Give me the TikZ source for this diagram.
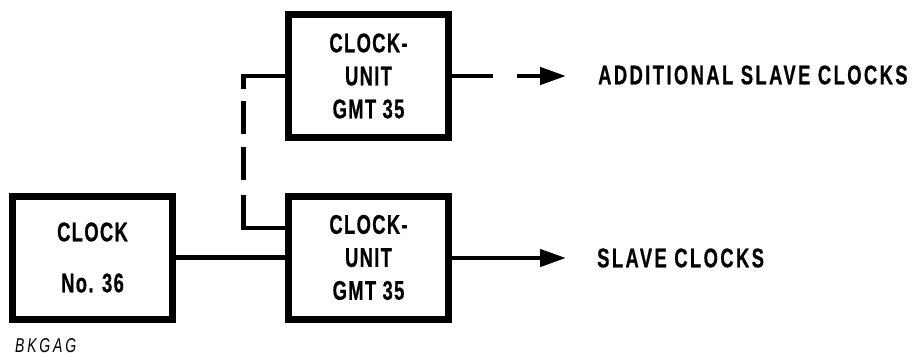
\documentclass[tikz,border=0pt]{standalone}
\usepackage{fontspec}
\usetikzlibrary{arrows.meta}
\newfontfamily\labfont{Liberation Sans}[FakeStretch=0.68,LetterSpace=9,FakeBold=0.6]
\newfontfamily\boxfont{Liberation Sans}[FakeStretch=0.68,LetterSpace=5,FakeBold=0.6]
\newfontfamily\codefont{Liberation Sans}[FakeStretch=0.7,LetterSpace=14]
\tikzset{
  blk/.style={draw, line width=7pt, minimum width=160pt, minimum height=123pt,
    inner sep=0pt, outer sep=0pt, align=center,
    font=\boxfont\bfseries\fontsize{27}{33}\selectfont},
  lab/.style={inner sep=0pt, anchor=west, font=\labfont\bfseries\fontsize{27}{30}\selectfont},
  conn/.style={line width=4.5pt},
  arr/.style={conn, -{Triangle[length=26pt,width=17pt]}}
}
\begin{document}
\begin{tikzpicture}[x=1pt,y=-1pt]
\useasboundingbox (0,0) rectangle (915,356);
\node[blk] (clk) at (92.5,257.5) {CLOCK\\[18pt]No. 36};
\node[blk] (ut) at (368.5,76) {CLOCK-\\UNIT\\GMT 35};
\node[blk] (ub) at (368.5,257.5) {CLOCK-\\UNIT\\GMT 35};
\node[lab] (t1) at (598,75) {ADDITIONAL SLAVE CLOCKS};
\node[lab] (t2) at (597,258) {SLAVE CLOCKS};
\node[inner sep=0pt, anchor=west, font=\codefont\itshape\fontsize{20}{22}\selectfont] (code) at (15,346) {BKGAG};
\coordinate (c1) at (243.7,76);
\coordinate (c2) at (243.7,228);
\coordinate (a1) at (566,76);
\coordinate (a2) at (566,258);
\draw[conn] (clk.east) -- (ub.west);
\draw[conn, dash pattern=on 57.8pt off 12pt on 33pt off 13pt on 33pt off 15pt on 90pt] (ut.west) -- (c1) -- (c2) -- (c2 -| ub.west);
\draw[arr, dash pattern=on 44pt off 24pt on 200pt] (ut.east) -- (a1);
\draw[arr] (ub.east |- a2) -- (a2);
\end{tikzpicture}
\end{document}
